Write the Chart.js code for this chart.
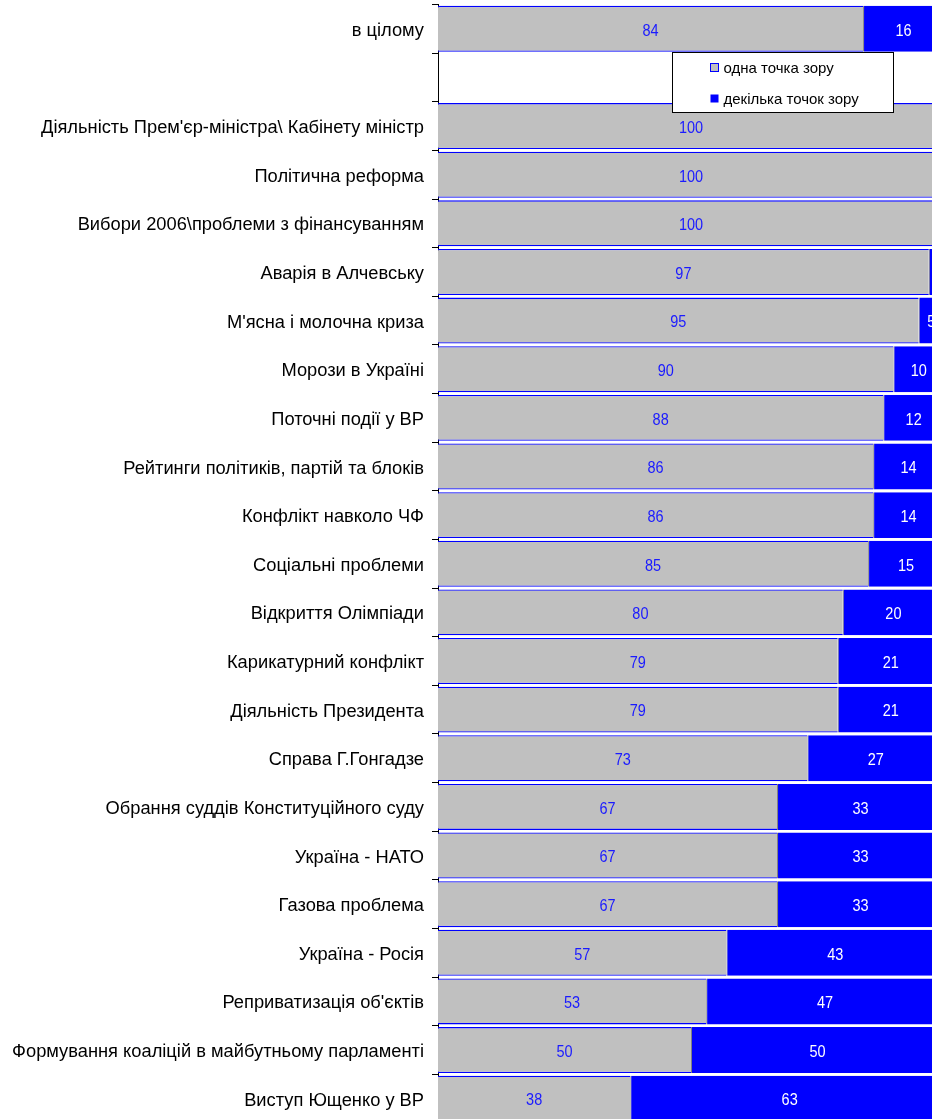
<!DOCTYPE html>
<html>
<head>
<meta charset="utf-8">
<style>
  html, body { margin: 0; padding: 0; background: #fff; overflow: hidden; }
  #wrap { width: 960px; height: 1140px; }
</style>
<script src="https://cdn.jsdelivr.net/npm/chart.js"></script>
</head>
<body>
<div id="wrap"><canvas id="chart" width="960" height="1140"></canvas></div>
<script>
  // categories, top to bottom (second row is left empty for the legend)
  const categories = [
    "в цілому",
    "",
    "Діяльність Прем'єр-міністра\\ Кабінету міністр",
    "Політична реформа",
    "Вибори 2006\\проблеми з фінансуванням",
    "Аварія в Алчевську",
    "М'ясна і молочна криза",
    "Морози в Україні",
    "Поточні події у ВР",
    "Рейтинги політиків, партій та блоків",
    "Конфлікт навколо ЧФ",
    "Соціальні проблеми",
    "Відкриття Олімпіади",
    "Карикатурний конфлікт",
    "Діяльність Президента",
    "Справа Г.Гонгадзе",
    "Обрання суддів Конституційного суду",
    "Україна - НАТО",
    "Газова проблема",
    "Україна - Росія",
    "Реприватизація об'єктів",
    "Формування коаліцій в майбутньому парламенті",
    "Виступ Ющенко у ВР"
  ];
  const onePoint = [84, null, 100, 100, 100, 97, 95, 90, 88, 86, 86, 85, 80, 79, 79, 73, 67, 67, 67, 57, 53, 50, 38];
  const severalPoints = [16, null, 0, 0, 0, 3, 5, 10, 12, 14, 14, 15, 20, 21, 21, 27, 33, 33, 33, 43, 47, 50, 63];
  const seriesNames = ["одна точка зору", "декілька точок зору"];

  const FONT = 'Tahoma, "Liberation Sans", Arial, sans-serif';
  const GRAY = "#C0C0C0";
  const BLUE = "#0000FF";

  // value labels in the middle of each segment (slightly tall, like the original)
  const valueLabels = {
    id: "valueLabels",
    afterDatasetsDraw(chart) {
      const ctx = chart.ctx;
      chart.data.datasets.forEach((ds, i) => {
        const meta = chart.getDatasetMeta(i);
        meta.data.forEach((bar, j) => {
          const v = ds.data[j];
          if (v === null || v === 0) return;
          ctx.save();
          ctx.translate((bar.x + bar.base) / 2, bar.y + 2);
          ctx.scale(1, 1.2);
          ctx.font = "14.5px " + FONT;
          ctx.textAlign = "center";
          ctx.textBaseline = "middle";
          ctx.fillStyle = i === 0 ? "#1a1aff" : "#ffffff";
          ctx.fillText(String(v), 0, 0);
          ctx.restore();
        });
      });
    }
  };

  // boxed legend sitting in the empty second row
  const boxLegend = {
    id: "boxLegend",
    afterDraw(chart) {
      const ctx = chart.ctx;
      const area = chart.chartArea;
      const y = chart.scales.y;
      const step = y.getPixelForValue(1) - y.getPixelForValue(0);
      const top = Math.round(y.getPixelForValue(0) + step / 2) - 0.5;
      const left = area.left + 234.5;
      const w = 221, h = 60;
      ctx.save();
      ctx.fillStyle = "#fff";
      ctx.fillRect(left, top, w, h);
      ctx.strokeStyle = "#000";
      ctx.lineWidth = 1;
      ctx.strokeRect(left, top, w, h);
      ctx.font = "15px " + FONT;
      ctx.textBaseline = "middle";
      ctx.textAlign = "left";
      const rows = [top + 15, top + 46];
      ctx.fillStyle = GRAY;
      ctx.fillRect(left + 38, rows[0] - 4, 8, 8);
      ctx.strokeStyle = BLUE;
      ctx.strokeRect(left + 38, rows[0] - 4, 8, 8);
      ctx.fillStyle = BLUE;
      ctx.fillRect(left + 38, rows[1] - 4, 8, 8);
      ctx.fillStyle = "#000";
      ctx.fillText(seriesNames[0], left + 51, rows[0] + 1);
      ctx.fillText(seriesNames[1], left + 51, rows[1] + 1);
      ctx.restore();
    }
  };

  new Chart(document.getElementById("chart"), {
    type: "bar",
    data: {
      labels: categories,
      datasets: [
        {
          label: seriesNames[0],
          data: onePoint,
          backgroundColor: GRAY,
          borderColor: BLUE,
          borderWidth: { top: 1.3, bottom: 1.3, left: 0, right: 0 },
          borderSkipped: false,
          barPercentage: 0.945,
          categoryPercentage: 1
        },
        {
          label: seriesNames[1],
          data: severalPoints,
          backgroundColor: BLUE,
          borderColor: "#808080",
          borderWidth: { top: 0, bottom: 0, left: 1, right: 0 },
          borderSkipped: false,
          barPercentage: 0.945,
          categoryPercentage: 1
        }
      ]
    },
    options: {
      indexAxis: "y",
      responsive: false,
      animation: false,
      devicePixelRatio: 1,
      layout: { padding: { top: 4.5, right: 16, bottom: 17, left: 0 } },
      plugins: {
        legend: { display: false },
        tooltip: { enabled: false }
      },
      scales: {
        x: {
          stacked: true,
          min: 0,
          max: 100,
          display: false
        },
        y: {
          stacked: true,
          grid: {
            offset: true,
            drawOnChartArea: false,
            drawTicks: true,
            tickLength: 6,
            color: "#000"
          },
          border: { display: true, color: "#000" },
          ticks: {
            color: "#000",
            autoSkip: false,
            padding: 8,
            labelOffset: 2,
            font: { size: 18.3, family: FONT }
          },
          afterFit(scale) {
            scale.width = 438;
            scale.paddingTop = 0;
            scale.paddingBottom = 0;
          }
        }
      }
    },
    plugins: [valueLabels, boxLegend]
  });
</script>
</body>
</html>
